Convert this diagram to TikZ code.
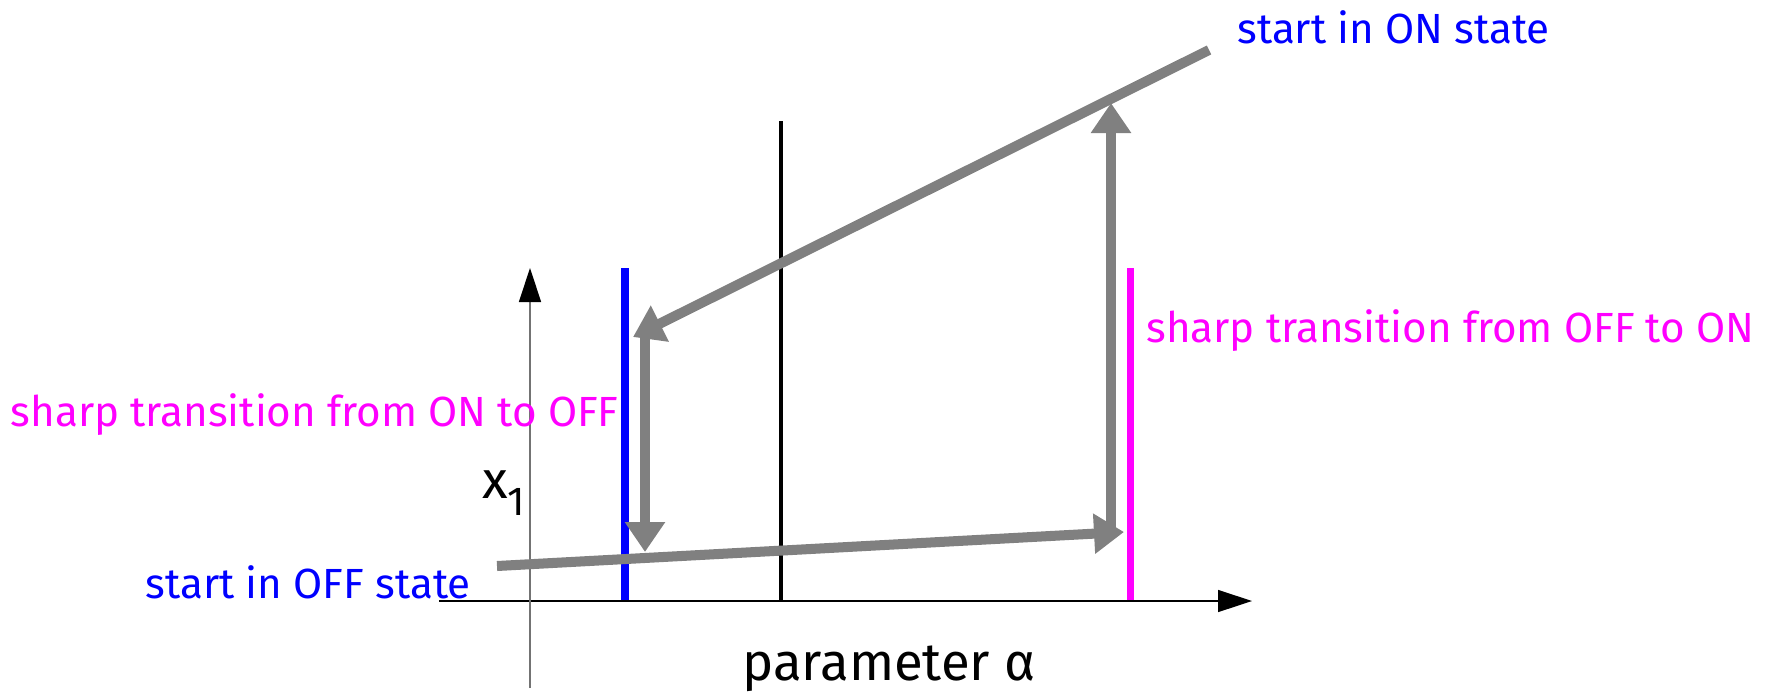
\documentclass[tikz,border=0pt]{standalone}
\usepackage{fontspec}
\setmainfont{Fira Sans}
\usetikzlibrary{arrows.meta}
\definecolor{onoff}{RGB}{255,0,255}
\definecolor{startblue}{RGB}{0,0,255}

\begin{document}
\begin{tikzpicture}[
    x=0.02cm, y=-0.02cm,
    txt/.style={inner sep=0pt, font=\fontsize{24}{28}\selectfont},
    big/.style={inner sep=0pt, font=\fontsize{30}{34}\selectfont},
    axis/.style={line width=0.8pt, -{Triangle[length=0.68cm, width=0.44cm, color=black]}},
    jump/.style={draw=gray, line width=5.7pt, -{Triangle[length=0.6cm, width=0.77cm]}},
    bound/.style={line width=4pt}
  ]
    \useasboundingbox (0,0) rectangle (1771,691);
    % axes
    \coordinate (xa0) at (439,601);
    \coordinate (xa1) at (1252,601);
    \coordinate (ya0) at (530,688);
    \coordinate (ya1) at (530,268);
    \draw[axis] (xa0) -- (xa1);
    \draw[axis, draw=black!55] (ya0) -- (ya1);
    % thresholds
    \coordinate (mid0) at (781,600);
    \coordinate (mid1) at (781,121);
    \coordinate (off0) at (625,600);
    \coordinate (off1) at (625,268);
    \coordinate (on0) at (1130,600);
    \coordinate (on1) at (1130,268);
    \draw[line width=2.2pt] (mid0) -- (mid1);
    \draw[bound, startblue] (off0) -- (off1);
    \draw[bound, onoff] (on0) -- (on1);
    % hysteresis path
    \coordinate (lowA) at (497,566);
    \coordinate (lowB) at (1124,532);
    \coordinate (upA) at (1209,50);
    \coordinate (upB) at (633,337);
    \coordinate (jumpup0) at (1111,534);
    \coordinate (jumpup1) at (1111,103);
    \coordinate (jumpdn0) at (645,337);
    \coordinate (jumpdn1) at (645,552);
    \draw[jump] (lowA) -- (lowB);
    \draw[jump] (jumpup0) -- (jumpup1);
    \draw[jump] (upA) -- (upB);
    \draw[jump] (jumpdn0) -- (jumpdn1);
    % labels
    \node[txt, startblue, anchor=west] (onstart) at (1237,27) {start in ON state};
    \node[txt, onoff, anchor=west] (toon) at (1146,331) {sharp transition from OFF to ON};
    \node[txt, onoff, anchor=east] (tooff) at (619,415) {sharp transition from ON to OFF};
    \node[txt, startblue, anchor=east] (offstart) at (471,582) {start in OFF state};
    \node[inner sep=0pt, anchor=base west] (xone) at (482,498)
      {\fontsize{30}{30}\selectfont x\raisebox{-9.7pt}{\fontsize{23}{23}\selectfont 1}};
    \node[big, anchor=base west] (param) at (742,680) {parameter α};
\end{tikzpicture}
\end{document}
